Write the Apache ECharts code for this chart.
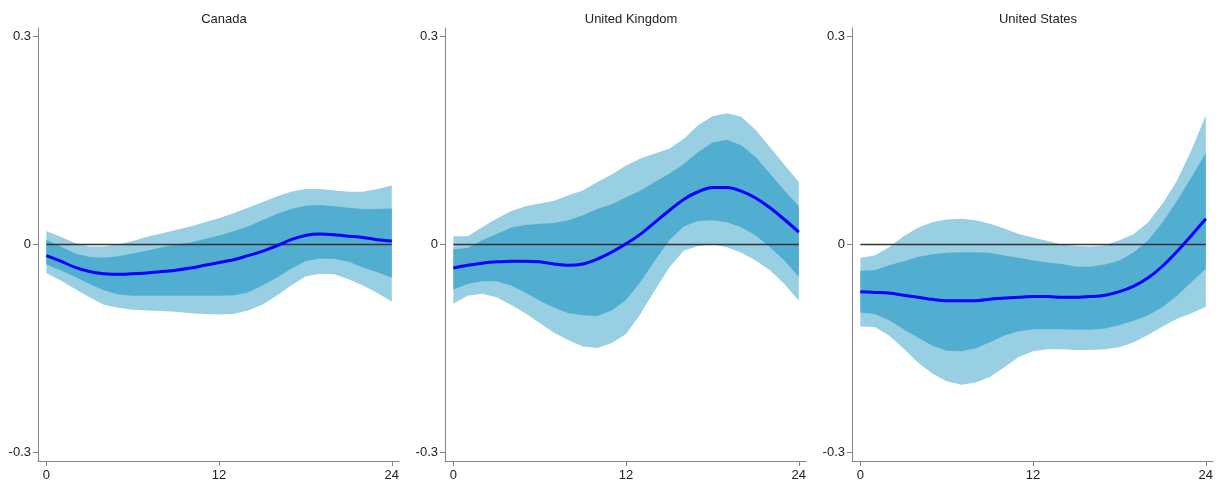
<!DOCTYPE html>
<html>
<head>
<meta charset="utf-8">
<title>Impulse responses</title>
<script src="https://cdn.jsdelivr.net/npm/echarts@6/dist/echarts.min.js"></script>
<style>
  html, body { margin: 0; padding: 0; background: #fff; }
  #chart { width: 1225px; height: 484px; }
</style>
</head>
<body>
<div id="chart"></div>
<script>
// Horizon (months) and panel labels
const months = Array.from({ length: 25 }, (_, i) => i);
const countries = ['Canada', 'United Kingdom', 'United States'];
const xTicks = [0, 12, 24];
const yTicks = [-0.3, 0, 0.3];

// Canada: point response with 68% and 90% bands
const caLo90 = [-0.041,-0.052,-0.064,-0.076,-0.087,-0.091,-0.094,-0.095,-0.096,-0.097,-0.099,-0.100,-0.101,-0.100,-0.095,-0.087,-0.074,-0.059,-0.046,-0.042,-0.043,-0.050,-0.059,-0.070,-0.082];
const caLo68 = [-0.029,-0.037,-0.047,-0.057,-0.066,-0.072,-0.074,-0.074,-0.074,-0.074,-0.074,-0.074,-0.074,-0.073,-0.069,-0.059,-0.048,-0.035,-0.024,-0.020,-0.021,-0.025,-0.033,-0.040,-0.048];
const caIrf  = [-0.016,-0.024,-0.033,-0.039,-0.042,-0.043,-0.042,-0.041,-0.039,-0.037,-0.034,-0.030,-0.026,-0.022,-0.016,-0.010,-0.002,0.007,0.013,0.015,0.014,0.012,0.010,0.007,0.005];
const caHi68 = [0.007,-0.003,-0.013,-0.018,-0.019,-0.017,-0.013,-0.009,-0.004,0.000,0.003,0.008,0.013,0.019,0.026,0.035,0.044,0.051,0.056,0.057,0.055,0.053,0.051,0.051,0.052];
const caHi90 = [0.019,0.011,0.002,-0.003,-0.003,0.000,0.005,0.011,0.016,0.021,0.026,0.032,0.038,0.045,0.053,0.061,0.069,0.076,0.080,0.080,0.078,0.076,0.076,0.080,0.085];

// United Kingdom
const ukLo90 = [-0.085,-0.074,-0.071,-0.076,-0.087,-0.099,-0.113,-0.127,-0.138,-0.147,-0.149,-0.142,-0.129,-0.100,-0.066,-0.033,-0.009,-0.002,0.000,-0.004,-0.012,-0.023,-0.037,-0.057,-0.081];
const ukLo68 = [-0.065,-0.057,-0.053,-0.053,-0.059,-0.069,-0.081,-0.091,-0.099,-0.102,-0.103,-0.095,-0.080,-0.054,-0.023,0.006,0.026,0.034,0.035,0.032,0.025,0.013,-0.004,-0.023,-0.047];
const ukIrf  = [-0.034,-0.030,-0.027,-0.025,-0.024,-0.024,-0.025,-0.028,-0.030,-0.028,-0.021,-0.011,0.001,0.015,0.032,0.049,0.065,0.076,0.082,0.082,0.077,0.067,0.053,0.036,0.018];
const ukHi68 = [-0.007,-0.005,0.006,0.015,0.024,0.028,0.030,0.031,0.035,0.042,0.051,0.058,0.068,0.078,0.090,0.102,0.116,0.133,0.147,0.151,0.143,0.126,0.102,0.078,0.055];
const ukHi90 = [0.012,0.012,0.025,0.037,0.048,0.055,0.059,0.063,0.071,0.078,0.090,0.101,0.114,0.124,0.131,0.138,0.152,0.172,0.185,0.189,0.184,0.165,0.140,0.115,0.090];

// United States
const usLo90 = [-0.118,-0.119,-0.131,-0.150,-0.170,-0.186,-0.197,-0.202,-0.199,-0.191,-0.177,-0.162,-0.154,-0.151,-0.151,-0.152,-0.152,-0.151,-0.148,-0.141,-0.130,-0.118,-0.107,-0.099,-0.090];
const usLo68 = [-0.098,-0.100,-0.109,-0.122,-0.134,-0.146,-0.153,-0.154,-0.150,-0.141,-0.131,-0.125,-0.122,-0.122,-0.122,-0.123,-0.123,-0.121,-0.116,-0.110,-0.102,-0.090,-0.074,-0.054,-0.035];
const usIrf  = [-0.068,-0.069,-0.070,-0.073,-0.076,-0.079,-0.081,-0.081,-0.081,-0.079,-0.077,-0.076,-0.075,-0.075,-0.076,-0.076,-0.075,-0.073,-0.068,-0.060,-0.048,-0.031,-0.010,0.013,0.037];
const usHi68 = [-0.038,-0.037,-0.030,-0.024,-0.018,-0.014,-0.012,-0.011,-0.011,-0.012,-0.016,-0.019,-0.023,-0.026,-0.028,-0.032,-0.032,-0.029,-0.023,-0.011,0.006,0.032,0.063,0.097,0.132];
const usHi90 = [-0.019,-0.016,-0.004,0.012,0.024,0.032,0.036,0.037,0.035,0.030,0.023,0.015,0.010,0.005,0.000,-0.002,-0.003,-0.001,0.006,0.015,0.032,0.059,0.092,0.136,0.186];

const panels = [
  { lo90: caLo90, lo68: caLo68, irf: caIrf, hi68: caHi68, hi90: caHi90 },
  { lo90: ukLo90, lo68: ukLo68, irf: ukIrf, hi68: ukHi68, hi90: ukHi90 },
  { lo90: usLo90, lo68: usLo68, irf: usIrf, hi68: usHi68, hi90: usHi90 }
];

const FONT = '"Liberation Sans", Arial, Helvetica, sans-serif';
const LIGHT = '#98cfe2';
const DARK = '#52aed1';
const AXIS = '#858585';
const gridLeft = [38, 445, 852];
const titleX = [219, 626, 1033];

const pairs = (ys) => months.map((m, i) => [m, ys[i]]);

// A shaded band: rows are [month, lower, upper]; the whole polygon is drawn
// once, on the first row, walking the upper edge out and the lower edge back.
function bandSeries(i, lo, hi, color, z) {
  return {
    type: 'custom', xAxisIndex: i, yAxisIndex: i, silent: true, z,
    data: months.map((m, k) => [m, lo[k], hi[k]]),
    encode: { x: 0, y: [1, 2] },
    renderItem: (params, api) => {
      if (params.dataIndex !== 0) return null;
      const n = months.length;
      const pts = [];
      for (let k = 0; k < n; k++) pts.push(api.coord([api.value(0, k), api.value(2, k)]));
      for (let k = n - 1; k >= 0; k--) pts.push(api.coord([api.value(0, k), api.value(1, k)]));
      return {
        type: 'polygon',
        shape: { points: pts },
        style: { fill: color, stroke: null }
      };
    }
  };
}

const option = {
  animation: false,
  backgroundColor: '#ffffff',
  textStyle: { fontFamily: FONT },
  title: countries.map((name, i) => ({
    text: name,
    left: titleX[i],
    top: 8,
    textAlign: 'center',
    textStyle: { fontFamily: FONT, fontSize: 13, fontWeight: 'normal', color: '#222' }
  })),
  grid: gridLeft.map(l => ({ left: l, top: 28, width: 361, height: 433 })),
  xAxis: gridLeft.map((_, i) => ({
    type: 'value', gridIndex: i, min: -0.58, max: 24.5,
    axisLine: { show: true, onZero: false, lineStyle: { color: AXIS, width: 1 } },
    axisTick: { show: true, length: 5, customValues: xTicks, lineStyle: { color: AXIS } },
    axisLabel: { customValues: xTicks, fontSize: 13, color: '#222', margin: 8, fontFamily: FONT },
    splitLine: { show: false }
  })),
  yAxis: gridLeft.map((_, i) => ({
    type: 'value', gridIndex: i, min: -0.312, max: 0.312,
    axisLine: { show: true, onZero: false, lineStyle: { color: AXIS, width: 1 } },
    axisTick: { show: true, length: 5, customValues: yTicks, lineStyle: { color: AXIS } },
    axisLabel: {
      customValues: yTicks, fontSize: 13, color: '#222', margin: 7, fontFamily: FONT,
      formatter: v => (Math.abs(v) < 1e-9 ? '0' : String(v))
    },
    splitLine: { show: false }
  })),
  series: []
};

panels.forEach((p, i) => {
  option.series.push(
    bandSeries(i, p.lo90, p.hi90, LIGHT, 1),
    bandSeries(i, p.lo68, p.hi68, DARK, 2),
    {
      name: 'zero', type: 'line', xAxisIndex: i, yAxisIndex: i,
      data: [[0, 0], [24, 0]], symbol: 'none',
      lineStyle: { color: '#333', width: 1.5 }, silent: true, z: 3
    },
    {
      name: 'response', type: 'line', xAxisIndex: i, yAxisIndex: i,
      data: pairs(p.irf), symbol: 'none', smooth: 0.3,
      lineStyle: { color: '#0000ff', width: 3 }, silent: true, z: 4
    }
  );
});

const chart = echarts.init(document.getElementById('chart'), null, { renderer: 'canvas' });
chart.setOption(option);
</script>
</body>
</html>
